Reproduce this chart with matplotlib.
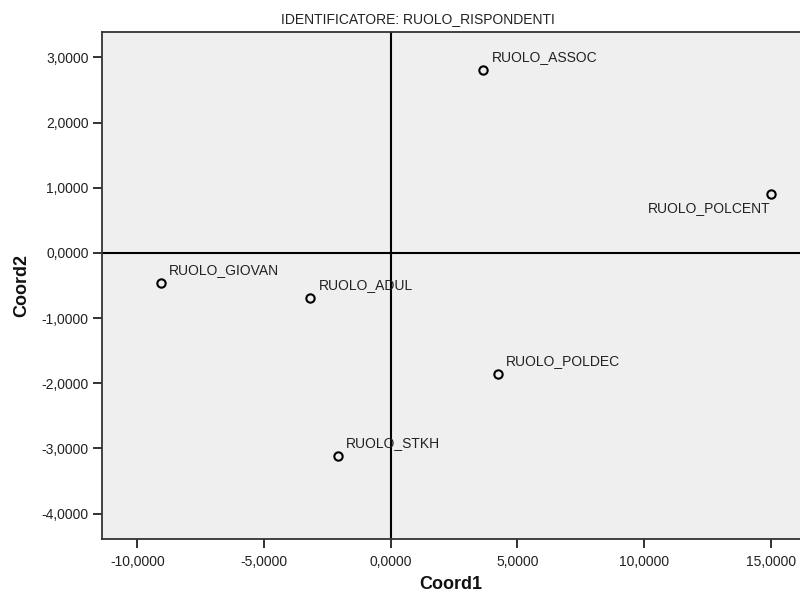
import matplotlib
matplotlib.use("Agg")
import matplotlib.pyplot as plt
from matplotlib.ticker import FuncFormatter, FixedLocator

plt.rcParams['font.family'] = ['Liberation Sans', 'DejaVu Sans']

labels = ["RUOLO_ASSOC", "RUOLO_POLCENT", "RUOLO_GIOVAN", "RUOLO_ADUL",
          "RUOLO_POLDEC", "RUOLO_STKH"]
coord1 = [3.66, 15.0, -9.07, -3.17, 4.24, -2.09]
coord2 = [2.81, 0.90, -0.46, -0.69, -1.86, -3.11]
xticks = [-10, -5, 0, 5, 10, 15]
yticks = [-4, -3, -2, -1, 0, 1, 2, 3]
title = "IDENTIFICATORE: RUOLO_RISPONDENTI"

fig = plt.figure(figsize=(8, 5.94), dpi=100)
ax = fig.add_axes([102/800, 55/594, 1 - 102/800, (539-32)/594])
ax.set_facecolor('#efefef')
ax.set_xlim(-11.40, 16.16)
ax.set_ylim(-4.39, 3.39)

ax.axhline(0, color='black', lw=1.5, zorder=1)
ax.axvline(0, color='black', lw=1.5, zorder=1)

ax.plot(coord1, coord2, linestyle='none', marker='o', ms=6,
        mfc='none', mec='black', mew=1.5, zorder=3)

for lab, x, y in zip(labels, coord1, coord2):
    if lab == "RUOLO_POLCENT":
        off, ha = (0, -14), 'right'
    else:
        off, ha = (8, 13), 'left'
    ax.annotate(lab, (x, y), xytext=off, textcoords='offset pixels',
                ha=ha, va='center', fontsize=10, color='#222222')

fmt = FuncFormatter(lambda v, p: f"{v:.4f}".replace('.', ','))
ax.xaxis.set_major_locator(FixedLocator(xticks))
ax.yaxis.set_major_locator(FixedLocator(yticks))
ax.xaxis.set_major_formatter(fmt)
ax.yaxis.set_major_formatter(fmt)
ax.tick_params(axis='both', length=6.5, width=1.3, color='#222222',
               labelsize=10, labelcolor='#222222', pad=3)
ax.tick_params(axis='x', pad=5)

for s in ['left', 'bottom', 'top']:
    ax.spines[s].set_color('#333333')
    ax.spines[s].set_linewidth(1.3)
ax.spines['right'].set_visible(False)

ax.set_xlabel("Coord1", fontsize=13, fontweight='bold', color='#111111', labelpad=5)
ax.set_ylabel("Coord2", fontsize=13, fontweight='bold', color='#111111', labelpad=8)

fig.text(418/800, 1 - 19/594, title, ha='center', va='center', fontsize=10,
         color='#222222')

fig.savefig("out.png", dpi=100)
